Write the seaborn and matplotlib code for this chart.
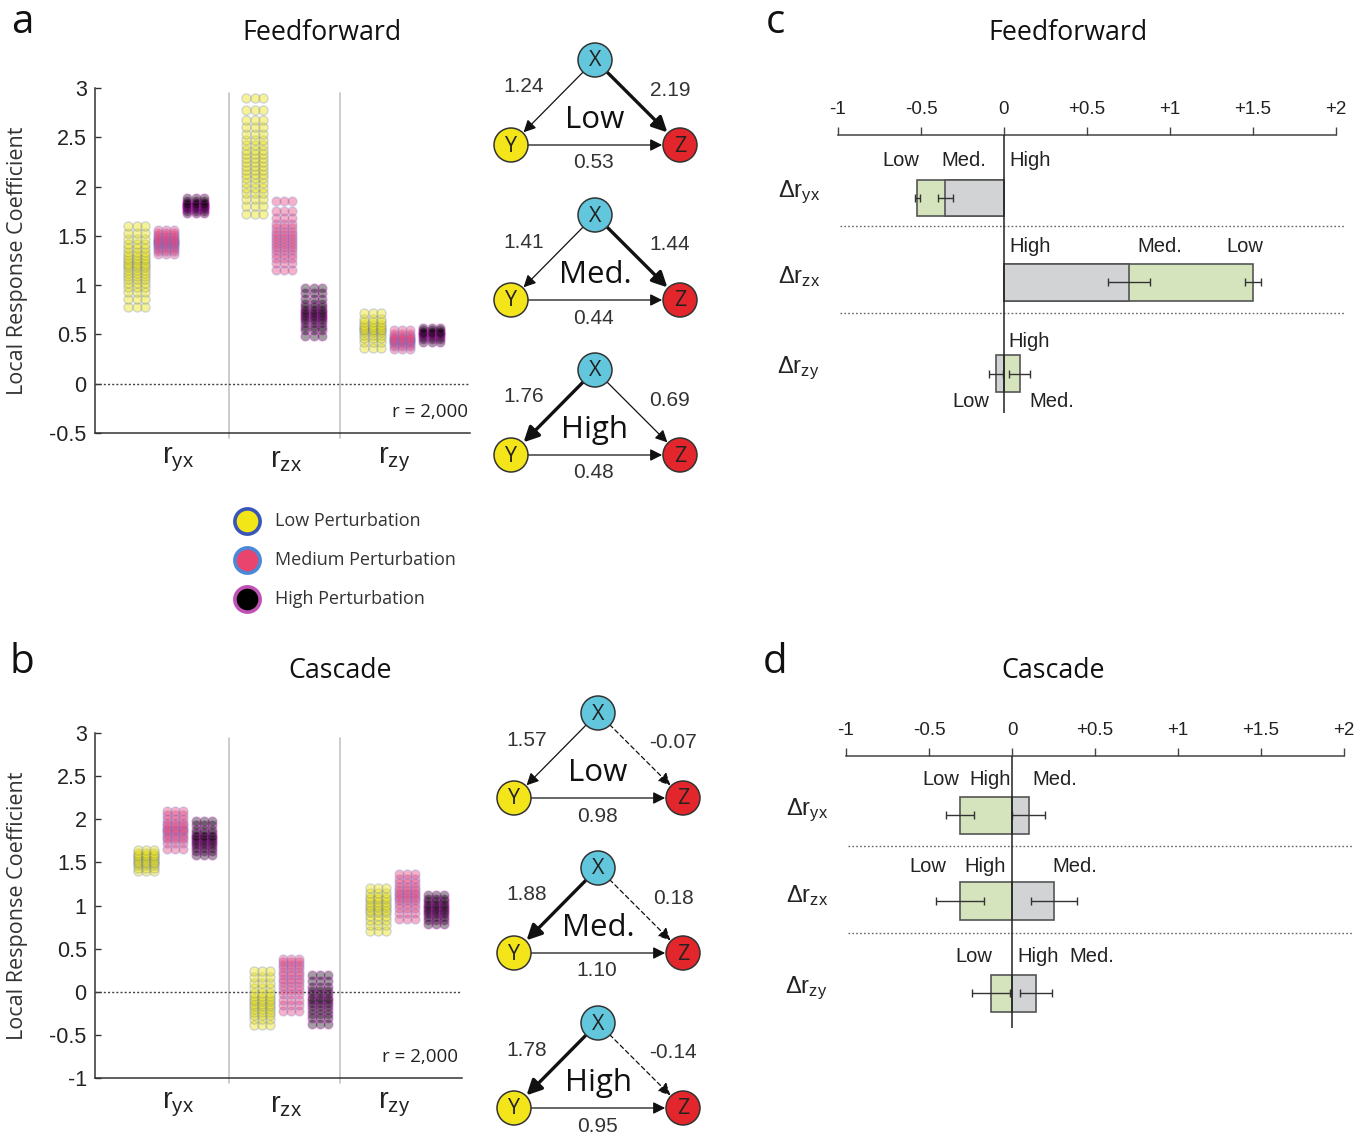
import numpy as np
import pandas as pd
import matplotlib
matplotlib.use("Agg")
import matplotlib.pyplot as plt
import seaborn as sns
from matplotlib.patches import Circle, FancyArrowPatch
from matplotlib.colors import to_rgba

# ---------------- data ----------------
CATS = ["ryx", "rzx", "rzy"]
CAT_LABELS = [r"$\mathregular{r_{yx}}$", r"$\mathregular{r_{zx}}$", r"$\mathregular{r_{zy}}$"]
LEVELS = ["Low", "Medium", "High"]

# Feedforward local response coefficient samples (panel a)
ff_ryx_low = [0.78, 0.86, 0.93, 0.98, 1.02, 1.06, 1.09, 1.12, 1.15, 1.18, 1.20, 1.22, 1.25, 1.28, 1.31, 1.34, 1.38, 1.42, 1.47, 1.53, 1.60]
ff_ryx_med = [1.32, 1.35, 1.37, 1.39, 1.41, 1.42, 1.43, 1.44, 1.45, 1.46, 1.47, 1.49, 1.51, 1.53, 1.56]
ff_ryx_high = [1.73, 1.75, 1.77, 1.78, 1.79, 1.80, 1.81, 1.82, 1.83, 1.85, 1.88]
ff_rzx_low = [1.72, 1.80, 1.87, 1.93, 1.99, 2.04, 2.09, 2.13, 2.17, 2.21, 2.25, 2.29, 2.33, 2.37, 2.42, 2.47, 2.53, 2.60, 2.68, 2.78, 2.90]
ff_rzx_med = [1.15, 1.22, 1.28, 1.32, 1.36, 1.39, 1.42, 1.45, 1.48, 1.51, 1.54, 1.58, 1.62, 1.68, 1.75, 1.85]
ff_rzx_high = [0.48, 0.54, 0.58, 0.62, 0.65, 0.67, 0.69, 0.71, 0.73, 0.75, 0.78, 0.81, 0.86, 0.92, 0.97]
ff_rzy_low = [0.36, 0.42, 0.46, 0.49, 0.52, 0.54, 0.56, 0.58, 0.60, 0.63, 0.66, 0.72]
ff_rzy_med = [0.35, 0.38, 0.40, 0.42, 0.43, 0.44, 0.45, 0.46, 0.48, 0.50, 0.54]
ff_rzy_high = [0.42, 0.45, 0.47, 0.49, 0.50, 0.51, 0.52, 0.54, 0.57]

# Cascade local response coefficient samples (panel b)
cas_ryx_low = [1.40, 1.44, 1.47, 1.49, 1.51, 1.53, 1.55, 1.57, 1.59, 1.61, 1.64]
cas_ryx_med = [1.66, 1.72, 1.77, 1.80, 1.83, 1.86, 1.88, 1.90, 1.93, 1.96, 2.00, 2.05, 2.10]
cas_ryx_high = [1.58, 1.63, 1.67, 1.70, 1.73, 1.75, 1.77, 1.79, 1.81, 1.84, 1.88, 1.93, 1.98]
cas_rzx_low = [-0.38, -0.32, -0.27, -0.23, -0.20, -0.17, -0.14, -0.11, -0.08, -0.05, -0.01, 0.04, 0.10, 0.17, 0.24]
cas_rzx_med = [-0.22, -0.15, -0.09, -0.03, 0.02, 0.07, 0.11, 0.15, 0.19, 0.23, 0.27, 0.31, 0.35, 0.38]
cas_rzx_high = [-0.37, -0.31, -0.26, -0.21, -0.17, -0.13, -0.10, -0.07, -0.03, 0.01, 0.06, 0.12, 0.20]
cas_rzy_low = [0.70, 0.77, 0.83, 0.88, 0.92, 0.95, 0.98, 1.01, 1.04, 1.07, 1.10, 1.14, 1.20]
cas_rzy_med = [0.84, 0.91, 0.97, 1.02, 1.06, 1.09, 1.12, 1.15, 1.18, 1.22, 1.26, 1.31, 1.36]
cas_rzy_high = [0.78, 0.83, 0.87, 0.90, 0.93, 0.95, 0.97, 0.99, 1.02, 1.05, 1.08, 1.12]

# Network weights
NET_LEVELS = ["Low", "Med.", "High"]
ff_xy = [1.24, 1.41, 1.76]
ff_xz = [2.19, 1.44, 0.69]
ff_yz = [0.53, 0.44, 0.48]
cas_xy = [1.57, 1.88, 1.78]
cas_xz = [-0.07, 0.18, -0.14]
cas_yz = [0.98, 1.10, 0.95]

# Delta r bars (c, d): Low-vs-High (green) and Med-vs-High (grey)
DR_LABELS = [r"$\mathregular{\Delta r_{yx}}$", r"$\mathregular{\Delta r_{zx}}$", r"$\mathregular{\Delta r_{zy}}$"]
ff_d_low = [-0.524, 1.502, 0.094]
ff_d_low_err = [0.015, 0.048, 0.062]
ff_d_med = [-0.354, 0.753, -0.048]
ff_d_med_err = [0.045, 0.127, 0.040]
cas_d_low = [-0.312, -0.312, -0.125]
cas_d_low_err = [0.086, 0.143, 0.114]
cas_d_med = [0.100, 0.254, 0.145]
cas_d_med_err = [0.098, 0.137, 0.094]
DX_TICKS = [-1, -0.5, 0, 0.5, 1, 1.5, 2]
DX_TICKLABELS = ["-1", "-0.5", "0", "+0.5", "+1", "+1.5", "+2"]

# ---------------- style ----------------
sns.set_theme(style="white")
plt.rcParams["font.family"] = ["Liberation Sans", "DejaVu Sans"]
plt.rcParams["mathtext.fontset"] = "custom"
plt.rcParams["mathtext.rm"] = "Liberation Sans"
plt.rcParams["mathtext.it"] = "Liberation Sans"
plt.rcParams["mathtext.bf"] = "Liberation Sans"
TXT = "#222222"
MYR = ["Open Sans", "DejaVu Sans"]

W, H = 1366, 1135
fig = plt.figure(figsize=(W / 100, H / 100), dpi=100)


def rect(l, t, r, b):
    return [l / W, 1 - b / H, (r - l) / W, (b - t) / H]


DOT_STYLES = {
    "Low": ("#e8e010", "#3a52c8", 0.42, 0.20),
    "Medium": ("#e8457c", "#4a86e0", 0.42, 0.20),
    "High": ("#0a0008", "#e020e0", 0.38, 0.24),
}


def scatter_panel(ax, groups, centers, gstep, cstep, xmax, ymin, label_x, rtext_x):
    rows = []
    for i, cat in enumerate(CATS):
        for j, lev in enumerate(LEVELS):
            for k in range(3):
                for v in groups[cat][j]:
                    rows.append((cat, lev, centers[i] + (j - 1) * gstep + (k - 1) * cstep, v))
    df = pd.DataFrame(rows, columns=["cat", "level", "x", "value"])
    for lev in LEVELS:
        face, edge, fa, ea = DOT_STYLES[lev]
        sns.scatterplot(data=df[df.level == lev], x="x", y="value", color=face,
                        edgecolor=edge, s=44, linewidth=1.0, ax=ax,
                        legend=False, zorder=3)
        coll = ax.collections[-1]
        coll.set_alpha(None)
        coll.set_facecolor(to_rgba(face, fa))
        coll.set_edgecolor(to_rgba(edge, ea))
    ax.set_xlim(0, xmax)
    ax.set_ylim(ymin, 3)
    ax.set_xlabel("")
    ax.set_ylabel("Local Response Coefficient", fontsize=15.5, color="#333", family=MYR)
    ax.yaxis.set_label_coords(-67 / (xmax), 0.5)
    ax.set_xticks([])
    yt = np.arange(ymin, 3.01, 0.5)
    ax.set_yticks(yt)
    ax.set_yticklabels([("%g" % t) for t in yt])
    ax.tick_params(axis="y", direction="in", length=4, width=1, labelsize=15.5,
                   colors="#333", labelcolor=TXT, pad=6, left=True)
    for s in ["top", "right"]:
        ax.spines[s].set_visible(False)
    for s in ["left", "bottom"]:
        ax.spines[s].set_color("#333")
        ax.spines[s].set_linewidth(1.1)
    for sx in (134, 245):
        ax.axvline(sx, ymin=-0.015, ymax=0.985, color="#c4c4c4", lw=1.2, clip_on=False, zorder=1)
    ax.axhline(0, color="#444", lw=1, ls=(0, (1.5, 1.5)), zorder=2)
    for lx, lab in zip(label_x, CAT_LABELS):
        ax.text(lx, -0.078, lab, transform=ax.get_xaxis_transform(), ha="center",
                va="center", fontsize=21, color=TXT)
    ax.text(rtext_x, 0.035, "r = 2,000", transform=ax.transAxes, ha="right",
            va="bottom", fontsize=13.5, color=TXT, family=MYR)
    ax.grid(False)


# ---------------- panel a ----------------
axa = fig.add_axes(rect(95, 88, 470, 433))
FF = {"ryx": [ff_ryx_low, ff_ryx_med, ff_ryx_high],
      "rzx": [ff_rzx_low, ff_rzx_med, ff_rzx_high],
      "rzy": [ff_rzy_low, ff_rzy_med, ff_rzy_high]}
scatter_panel(axa, FF, [71, 189, 307], 29.5, 8.3, 375, -0.5, [83, 191, 299], 0.995)

# ---------------- panel b ----------------
axb = fig.add_axes(rect(95, 733, 462, 1078))
CAS = {"ryx": [cas_ryx_low, cas_ryx_med, cas_ryx_high],
       "rzx": [cas_rzx_low, cas_rzx_med, cas_rzx_high],
       "rzy": [cas_rzy_low, cas_rzy_med, cas_rzy_high]}
scatter_panel(axb, CAS, [80, 196, 312], 29, 7.8, 367, -1, [83, 191, 299], 0.99)

# ---------------- overlay (letters, titles, legend, networks) ----------------
ov = fig.add_axes([0, 0, 1, 1])
ov.set_xlim(0, W)
ov.set_ylim(H, 0)
ov.axis("off")
ov.patch.set_alpha(0)

for (x, y, s) in [(22, 33, "a"), (22, 673, "b"), (775, 33, "c"), (775, 673, "d")]:
    ov.text(x, y, s, fontsize=29, ha="center", va="baseline", color="#111", family=MYR)
for (x, y, s) in [(322, 33, "Feedforward"), (340, 671, "Cascade"),
                  (1068, 33, "Feedforward"), (1053, 671, "Cascade")]:
    ov.text(x, y, s, fontsize=19.3, ha="center", va="center", color="#111", family=MYR)

# legend
LEG = [("Low Perturbation", "#f2e619", "#3a55b8"),
       ("Medium Perturbation", "#e8446e", "#4a88d8"),
       ("High Perturbation", "#000000", "#c050b4")]
for i, (lab, fc, ec) in enumerate(LEG):
    y = 521 + i * 39
    ov.scatter([247], [y], s=330, c=fc, edgecolors=ec, linewidths=2.6, marker="o", zorder=3)
    ov.text(275, y, lab, fontsize=13, va="center", ha="left", color="#333", family=MYR)

NODE_COL = {"X": "#62c7dc", "Y": "#f4e51a", "Z": "#e3262b"}


def network(x0, y0, level, wxy, wxz, wyz, thick_xy, thick_xz, dashed_xz):
    pos = {"X": (x0, y0), "Y": (x0 - 84, y0 + 85), "Z": (x0 + 85, y0 + 85)}
    circ = {}
    for n, p in pos.items():
        c = Circle(p, 17, facecolor=NODE_COL[n], edgecolor="#333", lw=1.1, zorder=4)
        ov.add_patch(c)
        circ[n] = c
        ov.text(p[0], p[1] + 1, n, fontsize=15.5, ha="center", va="center", color="#222",
                family=MYR, zorder=5)

    def arrow(a, b, thick, dashed=False):
        lw = 2.4 if thick else 0.9
        ms = 15 if thick else 12
        ls = (0, (3.5, 2.5)) if dashed else "-"
        ar = FancyArrowPatch(pos[a], pos[b], patchA=circ[a], patchB=circ[b],
                             arrowstyle="-|>,head_length=0.6,head_width=0.3",
                             mutation_scale=ms, lw=lw, color="#111", linestyle=ls,
                             shrinkA=0, shrinkB=1, zorder=3)
        ov.add_patch(ar)

    arrow("X", "Y", thick_xy)
    arrow("X", "Z", thick_xz, dashed_xz)
    arrow("Y", "Z", False)
    ov.text(x0 - 71, y0 + 27, "%.2f" % wxy, fontsize=15, ha="center", va="center", color="#333")
    ov.text(x0 + 75, y0 + 30, "%.2f" % wxz, fontsize=15, ha="center", va="center", color="#333")
    ov.text(x0, y0 + 60, level, fontsize=22.5, ha="center", va="center", color="#111", family=MYR)
    ov.text(x0 - 1, y0 + 103, "%.2f" % wyz, fontsize=15, ha="center", va="center", color="#333")


FF_THICK_XY = [False, False, True]
FF_THICK_XZ = [True, True, False]
CAS_THICK_XY = [False, True, True]
for i in range(3):
    network(595, 60 + 155 * i, NET_LEVELS[i], ff_xy[i], ff_xz[i], ff_yz[i],
            FF_THICK_XY[i], FF_THICK_XZ[i], False)
    network(598, 713 + 155 * i, NET_LEVELS[i], cas_xy[i], cas_xz[i], cas_yz[i],
            CAS_THICK_XY[i], False, True)

# ---------------- panels c, d ----------------
ROW_POS = [0, 0.96, 2]
GREEN = "#d6e4bd"
GREY = "#d2d3d5"


def delta_panel(ax, low, low_err, med, med_err, ylim, seps, labels):
    ax.barh(ROW_POS, low, height=0.42, color=GREEN, edgecolor="#555", lw=1.2, zorder=2)
    ax.barh(ROW_POS, med, height=0.42, color=GREY, edgecolor="#555", lw=1.2, zorder=3)
    ax.errorbar(low, ROW_POS, xerr=low_err, fmt="none", ecolor="#333", elinewidth=1,
                capsize=3, capthick=1, zorder=4)
    ax.errorbar(med, ROW_POS, xerr=med_err, fmt="none", ecolor="#333", elinewidth=1,
                capsize=3, capthick=1, zorder=4)
    ax.axvline(0, color="#222", lw=1.1, zorder=5)
    for s in seps:
        ax.plot([-0.99, 2.05], [s, s], color="#666", lw=1, ls=(0, (1.2, 1.6)), clip_on=False, zorder=1)
    ax.set_xlim(-1, 2)
    ax.set_ylim(*ylim)
    ax.xaxis.tick_top()
    ax.set_xticks(DX_TICKS)
    ax.set_xticklabels(DX_TICKLABELS)
    ax.set_yticks([])
    ax.tick_params(axis="x", direction="out", length=6, width=1, colors="#444",
                   labelcolor=TXT, labelsize=13.5, pad=6, top=True, bottom=False)
    for s in ["bottom", "left", "right"]:
        ax.spines[s].set_visible(False)
    ax.spines["top"].set_color("#444")
    ax.spines["top"].set_linewidth(1.1)
    for r, lab in zip(ROW_POS, DR_LABELS):
        ax.text(-1.11, r - 0.06, lab, ha="right", va="center", fontsize=17, color=TXT)
    for (txt, x, row, dy) in labels:
        ax.text(x, ROW_POS[row] + dy, txt, ha="center", va="center", fontsize=14.5, color=TXT)
    ax.grid(False)


axc = fig.add_axes(rect(838, 135, 1336, 413))
delta_panel(axc, ff_d_low, ff_d_low_err, ff_d_med, ff_d_med_err, (2.45, -0.718), [0.32, 1.31],
            [("Low", -0.62, 0, -0.43), ("Med.", -0.245, 0, -0.43), ("High", 0.157, 0, -0.43),
             ("High", 0.157, 1, -0.41), ("Med.", 0.94, 1, -0.41), ("Low", 1.45, 1, -0.41),
             ("High", 0.15, 2, -0.36), ("Low", -0.2, 2, 0.32), ("Med.", 0.29, 2, 0.32)])

axd = fig.add_axes(rect(846, 756, 1344, 1028))
delta_panel(axd, cas_d_low, cas_d_low_err, cas_d_med, cas_d_med_err, (2.39, -0.669), [0.343, 1.32],
            [("Low", -0.43, 0, -0.40), ("High", -0.134, 0, -0.40), ("Med.", 0.26, 0, -0.40),
             ("Low", -0.51, 1, -0.39), ("High", -0.16, 1, -0.39), ("Med.", 0.38, 1, -0.39),
             ("Low", -0.23, 2, -0.41), ("High", 0.154, 2, -0.41), ("Med.", 0.48, 2, -0.41)])

fig.savefig("out.png", dpi=100, facecolor="white")
